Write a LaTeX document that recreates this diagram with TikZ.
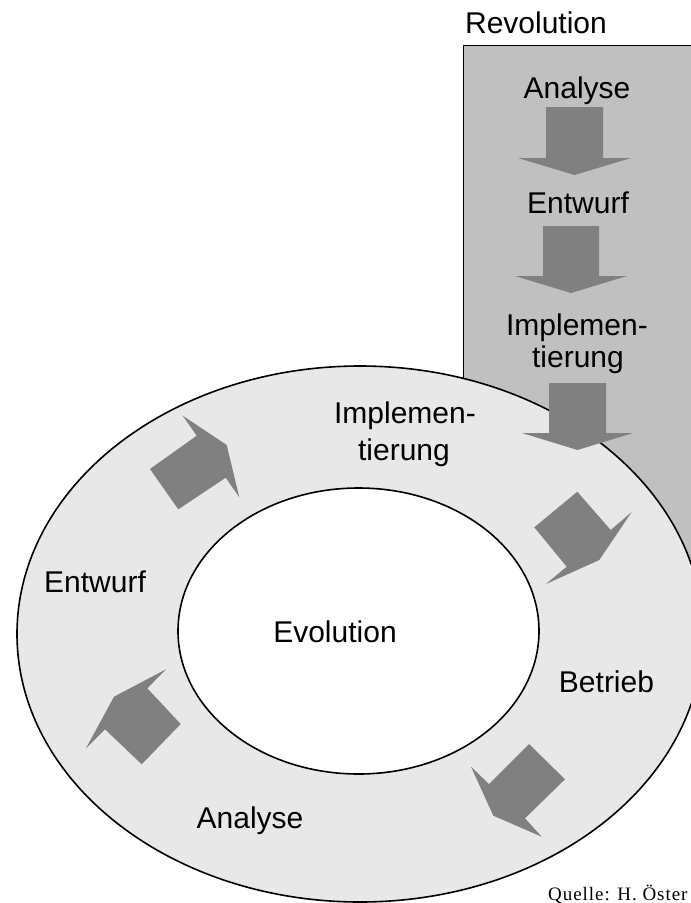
\documentclass[tikz,border=0pt]{standalone}
\usepackage{fontspec}
\setmainfont{Liberation Sans}
\newfontfamily\quellefont[LetterSpace=5]{Liberation Serif}
\definecolor{boxgray}{HTML}{C0C0C0}
\definecolor{ringgray}{HTML}{E8E8E8}
\definecolor{arrowgray}{HTML}{808080}
\begin{document}
\begin{tikzpicture}[x=1pt,y=-1pt,
  lbl/.style={font=\fontsize{30}{32}\selectfont, inner sep=0pt, anchor=base},
  blockarrow/.style={fill=arrowgray, draw=none}]
\useasboundingbox (0,0) rectangle (691,903);
\clip (0,0) rectangle (691,903);
% revolution box
\draw[fill=boxgray, line width=1pt] (463,45) rectangle (720,650);
% evolution ring
\draw[fill=ringgray, line width=1.6pt] (360,634) ellipse [x radius=343, y radius=268];
\draw[fill=white, line width=1.6pt] (358.5,631) ellipse [x radius=180.5, y radius=143];
% box arrows
\fill[blockarrow] (546,107) -- (603,107) -- (603,158) -- (631,158) -- (574.5,175) -- (518,158) -- (546,158) -- cycle;
\fill[blockarrow] (543,226) -- (599,226) -- (599,276) -- (627,276) -- (571,293) -- (515,276) -- (543,276) -- cycle;
\fill[blockarrow] (549,383) -- (606,383) -- (606,433) -- (633,433) -- (577.5,450) -- (522,433) -- (549,433) -- cycle;
% ring arrows
\fill[blockarrow] (150,469) -- (196.7,435.7) -- (182.7,415.7) -- (226.7,445) -- (239.3,497.3) -- (225.7,477.7) -- (178.3,509.3) -- cycle;
\fill[blockarrow] (534.3,527.3) -- (577.3,491.7) -- (610.7,530) -- (631.7,512) -- (599.3,560) -- (546,584) -- (566.7,566.7) -- cycle;
\fill[blockarrow] (529,744) -- (565,779.3) -- (525,818.3) -- (541.7,836.7) -- (493.3,815.7) -- (471,766.7) -- (489,784) -- cycle;
\fill[blockarrow] (180.7,724) -- (141.7,764.3) -- (105,729.3) -- (86,748.3) -- (114,696.7) -- (166,669.3) -- (147.3,688.3) -- cycle;
% box texts
\node[lbl] (rev) at (536,33) {Revolution};
\node[lbl] (banalyse) at (577,98) {Analyse};
\node[lbl] (bentwurf) at (578,213) {Entwurf};
\node[lbl] (bimpl) at (577,335) {Implemen-};
\node[lbl] (bimplb) at (578,367) {tierung};
% ring texts
\node[lbl] (rimpl) at (405,423) {Implemen-};
\node[lbl] (rimplb) at (404,460) {tierung};
\node[lbl] (rentwurf) at (95,592) {Entwurf};
\node[lbl] (evo) at (335,642) {Evolution};
\node[lbl] (betrieb) at (606.5,692) {Betrieb};
\node[lbl] (ranalyse) at (250,828) {Analyse};
% source
\node[font=\quellefont\fontsize{19}{21}\selectfont, inner sep=0pt, anchor=base west] (src) at (548,900) {Quelle: H. Öster};
\end{tikzpicture}
\end{document}
